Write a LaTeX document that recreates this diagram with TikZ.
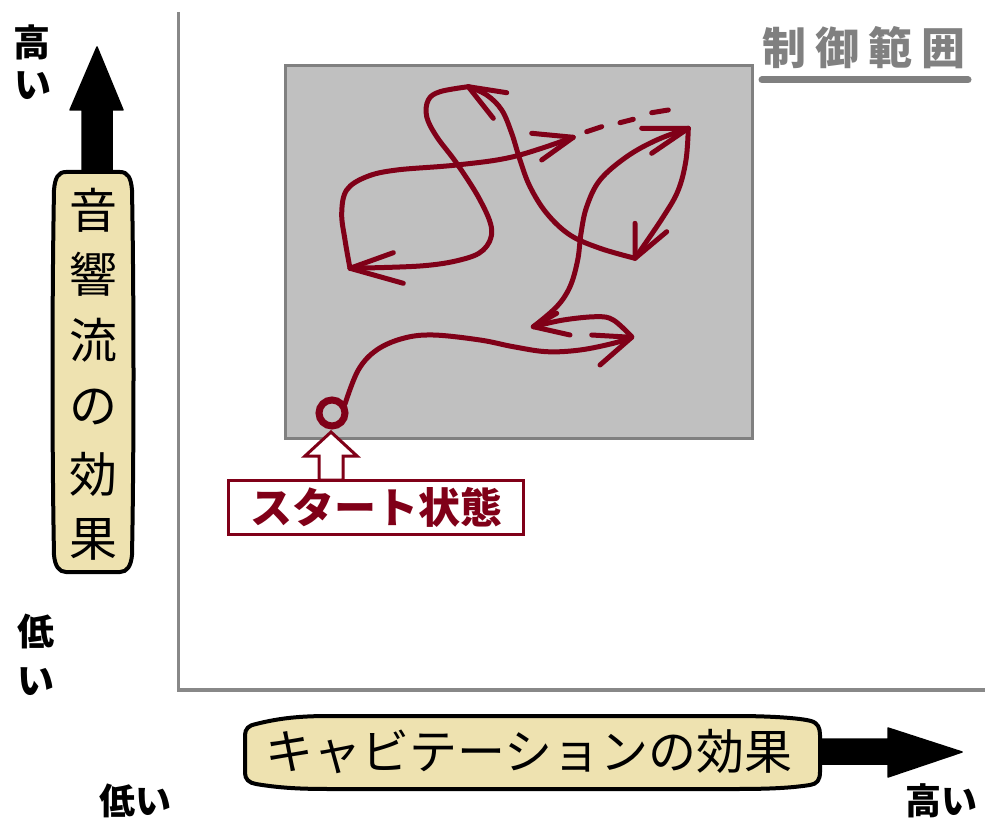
\documentclass[tikz,border=0pt]{standalone}
\usepackage{fontspec}
\setmainfont{Noto Sans CJK JP}
\definecolor{dred}{RGB}{128,0,24}
\definecolor{axisgray}{RGB}{136,136,136}
\definecolor{regiongray}{RGB}{128,128,128}
\definecolor{regionfill}{RGB}{192,192,192}
\definecolor{capfill}{RGB}{238,226,176}
\tikzset{
  curve/.style={dred, line width=5pt, line cap=round, line join=round},
  capsule/.style={draw=black, line width=4pt, fill=capfill, line join=round},
  bigarrow/.style={fill=black, draw=black, line width=1.5pt, line join=round},
  jtext/.style={inner sep=0pt, font=\fontsize{#1}{#1}\selectfont},
  jbold/.style={inner sep=0pt, font=\fontsize{#1}{#1}\selectfont\bfseries},
}
\begin{document}
\begin{tikzpicture}[x=1pt,y=-1pt]
\useasboundingbox (0,0) rectangle (985,821);
\fill[white] (0,0) rectangle (985,821);

% axes
\coordinate (ytop) at (178.5,12);
\coordinate (origin) at (178.5,690);
\coordinate (xend) at (985,690);
\draw[axisgray, line width=3.5pt] (ytop) -- (origin) -- (xend);

% control region
\draw[regiongray, fill=regionfill, line width=3pt] (285,66) rectangle (752,438);

% 制御範囲 label
\node[jbold=44, text=regiongray] (ctrl) at (864,48) {制\hspace{9pt}御\hspace{9pt}範\hspace{9pt}囲};
\draw[regiongray, line width=7pt, line cap=round] (762,80) -- (968,80);

% vertical axis arrow and capsule
\draw[bigarrow] (82,180) -- (82,110) -- (70,110) -- (97,47) -- (123,110) -- (112,110) -- (112,180) -- cycle;
\draw[capsule] (66,172) -- (120,172) .. controls (128,172) and (131,178) .. (132,190)
  .. controls (134,300) and (134,450) .. (132,555) .. controls (131,566) and (127,572) .. (120,572)
  -- (66,572) .. controls (59,572) and (55,566) .. (54,555)
  .. controls (52,450) and (52,300) .. (54,190) .. controls (55,178) and (58,172) .. (66,172) -- cycle;
\foreach \ch/\yy [count=\i] in {音/210,響/274,流/340,の/407,効/474,果/539}
  \node[jtext=48] (v\i) at (93,\yy) {\ch};

% horizontal axis arrow and capsule
\draw[bigarrow] (815,739) -- (888,739) -- (888,728) -- (962,752) -- (888,777) -- (888,764) -- (815,764) -- cycle;
\draw[capsule] (256,724) .. controls (280,718) and (300,716) .. (330,716) -- (735,716)
  .. controls (770,716) and (800,718) .. (811,721) .. controls (818,723) and (820,728) .. (820,735)
  -- (820,772) .. controls (820,780) and (817,784) .. (810,785)
  .. controls (790,788) and (770,789) .. (735,789) -- (330,789)
  .. controls (300,789) and (280,788) .. (256,784) .. controls (249,783) and (245,779) .. (245,773)
  -- (245,735) .. controls (245,729) and (249,725) .. (256,724) -- cycle;
\node[jtext=48] (xlabel) at (529,752) {キャビテーションの効果};

% high / low labels
\node[jbold=37] (yhigh1) at (32,42) {高};
\node[jbold=37] (yhigh2) at (33,86) {い};
\node[jbold=37] (ylow1) at (36,631) {低};
\node[jbold=37] (ylow2) at (36,682) {い};
\node[jbold=36] (xlow) at (135,801) {低い};
\node[jbold=36] (xhigh) at (941,801) {高い};

% start state
\node[circle, draw=dred, line width=7pt, minimum size=26pt, inner sep=0pt] (start) at (332,413) {};
\node[draw=dred, line width=3pt, fill=white, minimum width=295pt, minimum height=54pt, inner sep=0pt,
      text=dred, font=\fontsize{42}{42}\selectfont\bfseries] (startbox) at (376,507) {スタート状態\hspace{12pt}};
\draw[dred, line width=3pt, fill=white, line join=miter]
  (331,432) -- (357,456) -- (343,456) -- (343,480) -- (319,480) -- (319,456) -- (305,456) -- cycle;

% trajectory curves
\draw[curve] plot[smooth, tension=0.6] coordinates {(345,404) (358.3,370) (376.7,350) (403.3,338.3) (433.3,335) (480,340) (513.3,346.7) (546.7,351.7) (580,350) (613.3,343.3) (631.7,337.3)};
\draw[curve] (591.7,335) -- (631.7,337.3) -- (600,365);

\draw[curve] plot[smooth, tension=0.6] coordinates {(533.3,326.7) (563.3,320) (596.7,316.7) (613.3,320) (631.7,336.7)};
\draw[curve] (556.7,313.3) -- (533.3,326.7) -- (570,335);

\draw[curve] plot[smooth, tension=0.6] coordinates {(533.3,326.7) (556.7,306.7) (570,286.7) (577.7,260) (581,233.3) (586.7,206.7) (600,180) (626.7,156.7) (656.7,140) (688.3,128.3)};
\draw[curve] (641.7,128.3) -- (688.3,128.3) -- (651.7,153.3);

\draw[curve] plot[smooth, tension=0.6] coordinates {(688.3,128.3) (686,160) (678.3,190) (663.3,216.7) (635,258.3)};
\draw[curve] (635,223.3) -- (635,258.3) -- (666.7,231.7);

\draw[curve] plot[smooth, tension=0.6] coordinates {(635,258.3) (600,248.3) (570,235) (546.7,213.3) (530,186.7) (520,160) (511.7,133.3) (501.7,110) (486.7,95) (468.3,86.7)};
\draw[curve] (506.7,92.7) -- (468.3,86.7) -- (493.3,118.3);

\draw[curve] plot[smooth, tension=0.6] coordinates {(468.3,86.7) (440,91.7) (428.3,100) (426.7,116.7) (436.7,136.7) (456.7,163.3) (480,200) (491.7,230) (483.3,250) (460,260) (420,266) (350,268.3)};
\draw[curve] (393.3,252.7) -- (350,268.3) -- (403.3,283.3);

\draw[curve] plot[smooth, tension=0.6] coordinates {(350,268.3) (345,240) (341.7,213.3) (346.7,190) (366.7,176.7) (396.7,170) (456.7,165) (513.3,156.7) (573.3,137.3)};
\draw[curve] (531.7,133.3) -- (573.3,137.3) -- (541.7,160);

\draw[curve] (586.7,131.7) -- (601.7,126.7);
\draw[curve] (620,122.7) -- (633.3,119.3);
\draw[curve] (651.7,112.7) -- (668.3,110);
\end{tikzpicture}
\end{document}
